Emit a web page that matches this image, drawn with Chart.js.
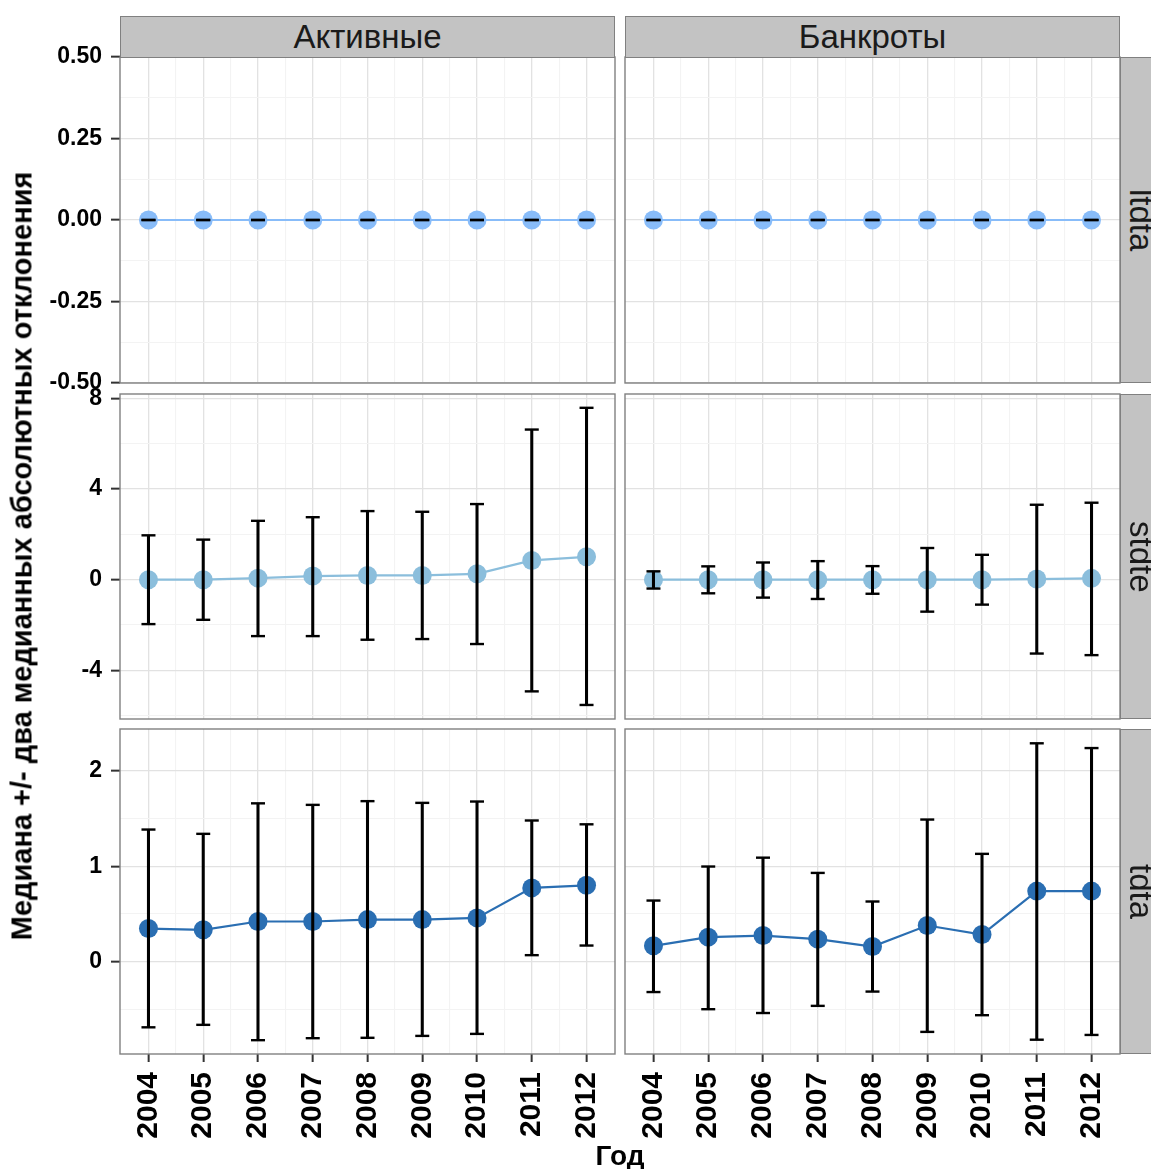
<!DOCTYPE html>
<html>
<head>
<meta charset="utf-8">
<script src="https://cdn.jsdelivr.net/npm/chart.js@4.4.1/dist/chart.umd.min.js"></script>
<style>
  html, body { margin: 0; padding: 0; background: #fff; overflow: hidden; }
  #fig { position: relative; width: 1151px; height: 1169px; overflow: hidden;
         font-family: "Liberation Sans", Arial, Helvetica, sans-serif; }
  #fig canvas { position: absolute; }
  .strip { position: absolute; box-sizing: border-box; background: #c3c3c3;
           border: 1.4px solid #808080; color: #1a1a1a; font-size: 33px;
           display: flex; align-items: center; justify-content: center; white-space: nowrap; }
  .strip.side span { writing-mode: vertical-rl; }
  .title { position: absolute; font-weight: bold; color: #000; white-space: nowrap; }
</style>
</head>
<body>
<div id="fig"></div>
<script>
// Years on the horizontal axis
const years = [2004, 2005, 2006, 2007, 2008, 2009, 2010, 2011, 2012];
const groups = ['Активные', 'Банкроты'];
const ratios = ['ltdta', 'stdte', 'tdta'];

// ltdta: median and median ± two MAD
const ltdtaActiveMedian = [0, 0, 0, 0, 0, 0, 0, 0, 0];
const ltdtaActiveLower  = [0, 0, 0, 0, 0, 0, 0, 0, 0];
const ltdtaActiveUpper  = [0, 0, 0, 0, 0, 0, 0, 0, 0];
const ltdtaBankruptMedian = [0, 0, 0, 0, 0, 0, 0, 0, 0];
const ltdtaBankruptLower  = [0, 0, 0, 0, 0, 0, 0, 0, 0];
const ltdtaBankruptUpper  = [0, 0, 0, 0, 0, 0, 0, 0, 0];

// stdte
const stdteActiveMedian = [0.00, 0.00, 0.07, 0.16, 0.19, 0.19, 0.26, 0.85, 1.01];
const stdteActiveLower  = [-1.96, -1.77, -2.49, -2.49, -2.65, -2.62, -2.84, -4.93, -5.53];
const stdteActiveUpper  = [1.96, 1.77, 2.60, 2.76, 3.03, 3.00, 3.34, 6.63, 7.59];
const stdteBankruptMedian = [0.00, 0.00, 0.00, 0.00, 0.00, 0.00, 0.00, 0.03, 0.06];
const stdteBankruptLower  = [-0.39, -0.60, -0.79, -0.85, -0.62, -1.41, -1.10, -3.26, -3.33];
const stdteBankruptUpper  = [0.37, 0.59, 0.76, 0.82, 0.60, 1.40, 1.10, 3.31, 3.40];

// tdta
const tdtaActiveMedian = [0.346, 0.333, 0.420, 0.420, 0.440, 0.440, 0.458, 0.773, 0.800];
const tdtaActiveLower  = [-0.690, -0.664, -0.825, -0.804, -0.800, -0.780, -0.759, 0.067, 0.168];
const tdtaActiveUpper  = [1.385, 1.340, 1.660, 1.644, 1.683, 1.665, 1.679, 1.480, 1.440];
const tdtaBankruptMedian = [0.165, 0.256, 0.273, 0.235, 0.157, 0.378, 0.283, 0.739, 0.739];
const tdtaBankruptLower  = [-0.320, -0.500, -0.540, -0.465, -0.315, -0.738, -0.563, -0.820, -0.770];
const tdtaBankruptUpper  = [0.640, 0.997, 1.090, 0.930, 0.630, 1.490, 1.130, 2.290, 2.240];

// Axis breaks and limits per row
const ltdtaTicks = [-0.5, -0.25, 0, 0.25, 0.5];
const ltdtaMinor = [-0.375, -0.125, 0.125, 0.375];
const ltdtaLimits = [-0.5, 0.5];
const stdteTicks = [-4, 0, 4, 8];
const stdteMinor = [-6, -2, 2, 6];
const stdteLimits = [-6.15, 8.2];
const tdtaTicks = [0, 1, 2];
const tdtaMinor = [-0.5, 0.5, 1.5];
const tdtaLimits = [-0.97, 2.44];
const yearMinor = [2004.5, 2005.5, 2006.5, 2007.5, 2008.5, 2009.5, 2010.5, 2011.5];
const yearLimits = [2003.48, 2012.52];

const rowColours = ['#88bcf9', '#8bbedc', '#2a6eb2'];

const panels = [
  [[ltdtaActiveMedian, ltdtaActiveLower, ltdtaActiveUpper], [ltdtaBankruptMedian, ltdtaBankruptLower, ltdtaBankruptUpper]],
  [[stdteActiveMedian, stdteActiveLower, stdteActiveUpper], [stdteBankruptMedian, stdteBankruptLower, stdteBankruptUpper]],
  [[tdtaActiveMedian, tdtaActiveLower, tdtaActiveUpper], [tdtaBankruptMedian, tdtaBankruptLower, tdtaBankruptUpper]]
];
const rowTicks = [ltdtaTicks, stdteTicks, tdtaTicks];
const rowMinor = [ltdtaMinor, stdteMinor, tdtaMinor];
const rowLimits = [ltdtaLimits, stdteLimits, tdtaLimits];

// Page layout (pixels)
const FIG_H = 1169;
const colLeft = [120, 625], panelW = 495;
const rowTop = [57, 394, 729], rowBottom = [383, 719, 1054];
const stripH = 41;
const PAD = 40;          // spare room round each canvas so labels never push the plot area
const Y_AXIS_W = 120;
const X_AXIS_H = FIG_H - rowBottom[2];

const FONT = '"Liberation Sans", Arial, Helvetica, sans-serif';
Chart.defaults.font.family = FONT;

const MAJOR_GRID = '#e2e2e2', MINOR_GRID = '#f3f3f3', TICK = '#333333';

const panelFrame = {
  id: 'panelFrame',
  afterDatasetsDraw(chart) {
    const { ctx, chartArea: a } = chart;
    ctx.save();
    ctx.strokeStyle = '#808080';
    ctx.lineWidth = 1.4;
    ctx.strokeRect(a.left, a.top, a.right - a.left, a.bottom - a.top);
    ctx.restore();
  }
};

function tickList(major, minor) {
  return major.concat(minor).sort((a, b) => a - b).map(v => ({ value: v }));
}

function isMajor(list, v) {
  return list.some(m => Math.abs(m - v) < 1e-9);
}

function buildDatasets(median, lower, upper, colour) {
  const cap = values => ({
    type: 'line', showLine: false,
    data: years.map((yr, i) => ({ x: yr, y: values[i] })),
    pointStyle: 'line', pointRadius: 7, pointBorderWidth: 2.4,
    pointBorderColor: '#000', pointBackgroundColor: '#000',
    order: 0
  });
  return [
    {
      type: 'bar',
      data: years.map((yr, i) => ({ x: yr, y: [lower[i], upper[i]] })),
      backgroundColor: '#000',
      borderWidth: 0,
      barThickness: 2.4,
      order: 0
    },
    cap(lower),
    cap(upper),
    {
      type: 'line',
      data: years.map((yr, i) => ({ x: yr, y: median[i] })),
      borderColor: colour, borderWidth: 2.2, tension: 0,
      pointRadius: 9.5, pointBackgroundColor: colour, pointBorderWidth: 0,
      order: 1
    }
  ];
}

const fig = document.getElementById('fig');

for (let r = 0; r < 3; r++) {
  for (let c = 0; c < 2; c++) {
    const bottomRow = r === 2, leftCol = c === 0;
    const yAxisW = leftCol ? Y_AXIS_W : 0;
    const xAxisH = bottomRow ? X_AXIS_H : 0;
    const left = colLeft[c] - yAxisW - PAD;
    const width = PAD + yAxisW + panelW + PAD;
    const top = rowTop[r] - PAD;
    const height = PAD + (rowBottom[r] - rowTop[r]) + xAxisH + PAD;

    const canvas = document.createElement('canvas');
    canvas.width = width; canvas.height = height;
    canvas.style.left = left + 'px'; canvas.style.top = top + 'px';
    canvas.style.width = width + 'px'; canvas.style.height = height + 'px';
    fig.appendChild(canvas);

    const [median, lower, upper] = panels[r][c];
    const major = rowTicks[r], minor = rowMinor[r];

    new Chart(canvas, {
      type: 'line',
      data: { datasets: buildDatasets(median, lower, upper, rowColours[r]) },
      options: {
        responsive: false,
        animation: false,
        events: [],
        layout: { autoPadding: false, padding: PAD },
        plugins: { legend: { display: false }, tooltip: { enabled: false } },
        scales: {
          x: {
            type: 'linear', offset: false,
            min: yearLimits[0], max: yearLimits[1],
            afterBuildTicks: s => { s.ticks = tickList(years, yearMinor); },
            afterFit: s => { s.height = xAxisH; },
            border: { display: false },
            grid: {
              offset: false,
              drawTicks: bottomRow, tickLength: 8, tickWidth: 2,
              color: ctx => isMajor(years, ctx.tick.value) ? MAJOR_GRID : MINOR_GRID,
              lineWidth: ctx => isMajor(years, ctx.tick.value) ? 1.3 : 1.1,
              tickColor: ctx => isMajor(years, ctx.tick.value) ? TICK : 'rgba(0,0,0,0)'
            },
            ticks: {
              display: bottomRow, autoSkip: false,
              minRotation: 90, maxRotation: 90, padding: 10,
              color: '#000', font: { size: 30, weight: 'bold' },
              callback: v => isMajor(years, v) ? String(v) : ''
            }
          },
          y: {
            type: 'linear',
            min: rowLimits[r][0], max: rowLimits[r][1],
            afterBuildTicks: s => { s.ticks = tickList(major, minor); },
            afterFit: s => { s.width = yAxisW; },
            border: { display: false },
            grid: {
              drawTicks: leftCol, tickLength: 9, tickWidth: 2,
              color: ctx => isMajor(major, ctx.tick.value) ? MAJOR_GRID : MINOR_GRID,
              lineWidth: ctx => isMajor(major, ctx.tick.value) ? 1.3 : 1.1,
              tickColor: ctx => isMajor(major, ctx.tick.value) ? TICK : 'rgba(0,0,0,0)'
            },
            ticks: {
              display: leftCol, autoSkip: false, padding: 9,
              color: '#000', font: { size: 23, weight: 'bold' },
              callback: v => isMajor(major, v) ? (r === 0 ? v.toFixed(2) : String(v)) : ''
            }
          }
        }
      },
      plugins: [panelFrame]
    });
  }
}

// Facet strips: groups across the top, ratios down the right side
groups.forEach((g, c) => {
  const d = document.createElement('div');
  d.className = 'strip';
  d.style.left = colLeft[c] + 'px';
  d.style.top = (rowTop[0] - stripH) + 'px';
  d.style.width = panelW + 'px';
  d.style.height = (stripH + 1) + 'px';
  d.textContent = g;
  fig.appendChild(d);
});
ratios.forEach((name, r) => {
  const d = document.createElement('div');
  d.className = 'strip side';
  d.style.left = (colLeft[1] + panelW) + 'px';
  d.style.top = rowTop[r] + 'px';
  d.style.width = stripH + 'px';
  d.style.height = (rowBottom[r] - rowTop[r]) + 'px';
  const s = document.createElement('span');
  s.textContent = name;
  d.appendChild(s);
  fig.appendChild(d);
});

// Axis titles
const xTitle = document.createElement('div');
xTitle.className = 'title';
xTitle.style.fontSize = '28px';
xTitle.textContent = 'Год';
xTitle.style.left = ((colLeft[0] + colLeft[1] + panelW) / 2) + 'px';
xTitle.style.top = '1156px';
xTitle.style.transform = 'translate(-50%, -50%)';
fig.appendChild(xTitle);

const yTitle = document.createElement('div');
yTitle.className = 'title';
yTitle.style.fontSize = '29px';
yTitle.textContent = 'Медиана +/- два медианных абсолютных отклонения';
yTitle.style.left = '22px';
yTitle.style.top = ((rowTop[0] + rowBottom[2]) / 2) + 'px';
yTitle.style.transform = 'translate(-50%, -50%) rotate(-90deg)';
fig.appendChild(yTitle);
</script>
</body>
</html>
